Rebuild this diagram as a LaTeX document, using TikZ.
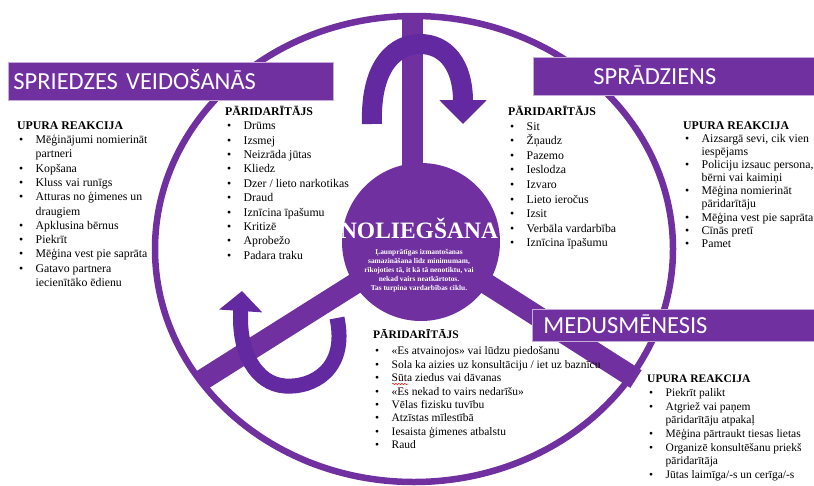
\documentclass[tikz,border=0pt]{standalone}
\usepackage{fontspec}
\setmainfont{Liberation Serif}
\newfontfamily\bannerfont{Carlito}
\usetikzlibrary{positioning,arrows.meta,decorations.pathmorphing}
\definecolor{violetta}{HTML}{7030A0}
\definecolor{violettadark}{HTML}{6329A0}
\newcommand{\li}{\hspace*{2pt}\makebox[16.5pt][l]{\textbullet}}
\newcommand{\lc}{\hspace*{18.5pt}}

\begin{document}
\begin{tikzpicture}[x=1pt,y=-1pt,
		ring/.style={draw=violetta,line width=6.5pt},
		spoke/.style={draw=violetta,line width=21pt},
		ribbon/.style={draw=violettadark,line width=#1},
		banner/.style={fill=violetta,draw=violetta!40,line width=0.8pt,text=white,inner sep=0pt,anchor=north west,align=left,
			text height=16pt,text depth=0pt,font=\bannerfont\fontsize{24.5}{28}\selectfont},
		list/.style={anchor=north west,inner sep=0pt,align=left}]
	\useasboundingbox (0,0) rectangle (814,485);
	\coordinate (mid) at (421,242);
	\draw[spoke] (412,242) -- (412,15);
	\draw[spoke] (mid) -- (199,382);
	\draw[spoke] (mid) -- (636,379);
	\draw[ring] (414,249) ellipse [x radius=259,y radius=233];
	\node[circle,fill=violetta,minimum size=158] (dsk) at (mid) {};
	\node[anchor=base,text=white,font=\bfseries\fontsize{23.5}{26}\selectfont] (nol) at (419,238) {NOLIEGŠANA};
	\node[below=7pt of nol,align=center,text=white,inner sep=0pt,font=\bfseries\fontsize{7.4}{9}\selectfont] (sub)
		{Ļaunprātīgas izmantošanas\\samazināšana līdz minimumam,\\rīkojoties tā, it kā tā nenotiktu, vai\\nekad vairs neatkārtotos.\\Tas turpina vardarbības ciklu.};
	% cikla bultas
	\draw[ribbon=20pt,-{Triangle[length=24pt,width=46pt]}] (372,124) .. controls (370,62) and (398,44) .. (420,44)
		.. controls (445,44) and (463,64) .. (463,124);
	\draw[ribbon=15pt,-{Triangle[length=20pt,width=42pt]}] (337,318) .. controls (348,370) and (312,388) .. (285,386)
		.. controls (256,384) and (238,352) .. (242,291);
	% fazes
	\node[banner,minimum width=325,minimum height=38,text width=315] (spr) at (8,62) {SPRIEDZES VEIDOŠANĀS};
	\node[banner,minimum width=290,minimum height=38,text width=280] (spd) at (533,57) {\hspace*{55pt}SPRĀDZIENS};
	\node[banner,minimum width=290,minimum height=32,text width=280] (med) at (532,309) {\hspace*{6pt}MEDUSMĒNESIS};
	% saraksti
	\node[list,font=\fontsize{11.8}{14.3}\selectfont] (ur1) at (17,119) {\strut\textbf{UPURA REAKCIJA}\\
		\li Mēģinājumi nomierināt\\ \lc partneri\\ \li Kopšana\\ \li Kluss vai runīgs\\ \li Atturas no ģimenes un\\ \lc draugiem\\
		\li Apklusina bērnus\\ \li Piekrīt\\ \li Mēģina vest pie saprāta\\ \li Gatavo partnera\\ \lc iecienītāko ēdienu};
	\node[list,font=\fontsize{11.8}{14.4}\selectfont] (pd1) at (225,105) {\strut\textbf{PĀRIDARĪTĀJS}\\
		\li Drūms\\ \li Izsmej\\ \li Neizrāda jūtas\\ \li Kliedz\\ \li Dzer / lieto narkotikas\\ \li Draud\\
		\li Iznīcina īpašumu\\ \li Kritizē\\ \li Aprobežo\\ \li Padara traku};
	\node[list,font=\fontsize{11.8}{14.6}\selectfont] (pd2) at (508,105) {\strut\textbf{PĀRIDARĪTĀJS}\\
		\li Sit\\ \li Žņaudz\\ \li Pazemo\\ \li Ieslodza\\ \li Izvaro\\ \li Lieto ieročus\\ \li Izsit\\
		\li Verbāla vardarbība\\ \li Iznīcina īpašumu};
	\node[list,font=\fontsize{11.8}{13.1}\selectfont] (ur2) at (683,120) {\strut\textbf{UPURA REAKCIJA}\\
		\li Aizsargā sevi, cik vien\\ \lc iespējams\\ \li Policiju izsauc persona,\\ \lc bērni vai kaimiņi\\
		\li Mēģina nomierināt\\ \lc pāridarītāju\\ \li Mēģina vest pie saprāta\\ \li Cīnās pretī\\ \li Pamet};
	\node[list,font=\fontsize{11.5}{13.4}\selectfont] (pd3) at (373,329) {\strut\textbf{PĀRIDARĪTĀJS}\\[3pt]
		\li «Es atvainojos» vai lūdzu piedošanu\\ \li Sola ka aizies uz konsultāciju / iet uz baznīcu\\
		\li Sūta ziedus vai dāvanas\\ \li «Es nekad to vairs nedarīšu»\\ \li Vēlas fizisku tuvību\\
		\li Atzīstas mīlestībā\\ \li Iesaista ģimenes atbalstu\\ \li Raud};
	\node[list,font=\fontsize{11.5}{13.7}\selectfont] (ur3) at (647,373) {\strut\textbf{UPURA REAKCIJA}\\
		\li Piekrīt palikt\\ \li Atgriež vai paņem\\ \lc pāridarītāju atpakaļ\\ \li Mēģina pārtraukt tiesas lietas\\
		\li Organizē konsultēšanu priekš\\ \lc pāridarītāja\\ \li Jūtas laimīga/-s un cerīga/-s};
	\draw[red,line width=0.5pt,decorate,decoration={snake,amplitude=0.6pt,segment length=3pt}] (392,384) -- (408,384);
\end{tikzpicture}
\end{document}
